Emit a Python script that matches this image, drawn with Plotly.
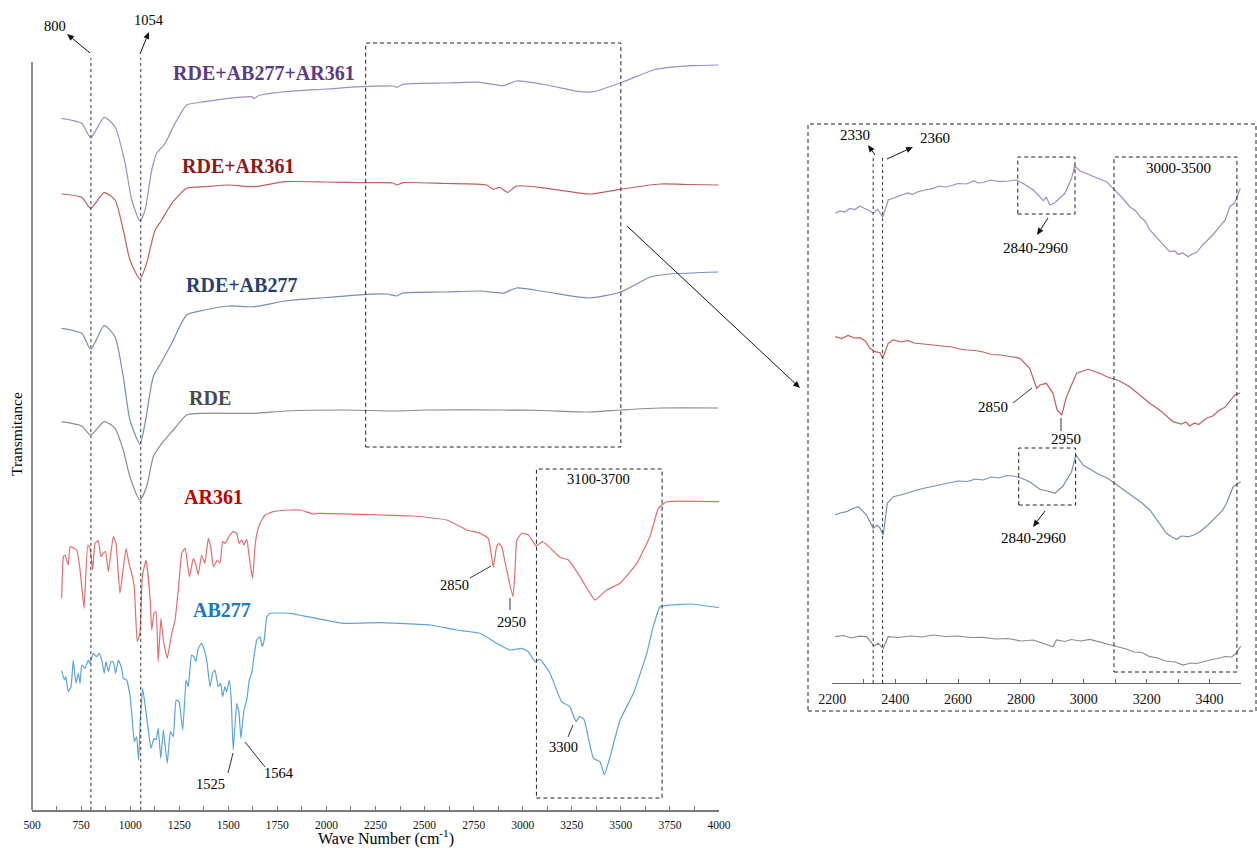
import math
import plotly.graph_objects as go

W, H = 1257, 848
FONT = "Liberation Serif"

# ---------------- main panel: stacked FTIR spectra (offset transmittance, a.u.) ----------------
wn_mix3 = [651, 753, 799, 868, 923, 974, 1008, 1050, 1076, 1110, 1135, 1178, 1229, 1288, 1381,
           1500, 1619, 1632, 1650, 1789, 2000, 2171, 2340, 2358, 2390, 2600, 2782, 2901, 2969,
           3122, 3292, 3360, 3504, 3665, 3708, 3869, 3997]
t_mix3 = [691.7, 686.7, 672.3, 692.7, 683.3, 647, 610, 589, 600, 640, 656.7, 666.7, 686.7, 705,
          708.3, 711.7, 713.3, 711.5, 714, 718.3, 721, 723.3, 724, 722.7, 725.7, 727, 727.7,
          724.3, 729, 725, 718.3, 718.3, 727.7, 740, 741.7, 744.3, 745]

wn_rde_ar = [651, 753, 799, 868, 923, 965, 999, 1050, 1084, 1127, 1161, 1212, 1288, 1381, 1500,
             1636, 1789, 2000, 2171, 2340, 2358, 2390, 2600, 2816, 2850, 2884, 2923, 2969, 3122,
             3344, 3496, 3700, 3850, 3997]
t_rde_ar = [616, 612.7, 601.7, 617.3, 610, 580, 550, 531, 546.7, 580, 590, 606.7, 621.7, 623.3,
            625, 623.3, 628.3, 628, 627.3, 627, 625, 627.3, 626.5, 625, 620.7, 622.7, 617.7, 624,
            621.7, 616, 620.7, 626, 625.5, 625]

wn_rde_ab = [651, 753, 799, 868, 923, 965, 999, 1050, 1076, 1118, 1161, 1212, 1288, 1381, 1500,
             1632, 1789, 2000, 2205, 2307, 2358, 2390, 2600, 2782, 2901, 2969, 3122, 3340, 3500,
             3650, 3750, 3997]
t_rde_ab = [481.7, 476.7, 460.7, 484.3, 473.3, 433.3, 390, 365.7, 386.7, 433.3, 448.3, 466.7, 495,
            500, 504, 503.3, 509, 512.5, 515.7, 516, 514, 517, 518, 519, 517, 522, 518, 512, 518,
            533, 536, 538]

wn_rde = [651, 753, 799, 868, 923, 965, 999, 1050, 1084, 1118, 1161, 1220, 1288, 1381, 1636,
          1789, 2100, 2358, 2500, 2900, 3100, 3340, 3500, 3700, 3997]
t_rde = [388.3, 384, 375, 388.3, 381.7, 360, 333.3, 310, 323.3, 353.3, 366.7, 380, 395, 396.7,
         396.7, 399, 400, 399, 400, 400, 399.5, 398, 400, 402, 402]

wn_ar361 = [651, 660, 668, 685, 694, 728, 745, 765, 784, 796, 809, 821, 838, 851, 863, 875, 889,
            914, 928, 948, 979, 994, 1008, 1021, 1036, 1050, 1062, 1081, 1101, 1110, 1122, 1132,
            1143, 1157, 1169, 1189, 1212, 1229, 1246, 1263, 1280, 1302, 1322, 1335, 1347, 1364,
            1381, 1398, 1410, 1424, 1444, 1458, 1471, 1483, 1509, 1526, 1543, 1555, 1568, 1580,
            1594, 1611, 1624, 1636, 1648, 1662, 1687, 1729, 1814, 1865, 1933, 1967, 2273, 2443,
            2613, 2715, 2783, 2825, 2839, 2850, 2867, 2879, 2893, 2915, 2950, 2960, 2970, 2995,
            3029, 3068, 3102, 3190, 3233, 3292, 3343, 3368, 3428, 3496, 3581, 3648, 3691, 3733,
            3999]
t_ar361 = [211.7, 253.3, 255, 245, 263.3, 260, 240, 201.7, 265, 261.7, 240, 266.7, 269.3, 253.3,
           256.7, 258.3, 238.3, 273.3, 266.7, 216.7, 261.7, 246.7, 236.7, 223.3, 168.3, 176.7,
           233.3, 250, 213.3, 180, 196.7, 198.3, 148.3, 191.7, 170, 151.7, 176.7, 190, 221.7,
           256.7, 261.7, 233.3, 251.7, 245, 235, 255, 246.7, 271.7, 263.3, 243.3, 250, 246.7,
           268.3, 266.7, 275, 278.3, 276.7, 266.7, 270, 265, 270.7, 246.7, 231.7, 263.3, 278.3,
           286.7, 295, 298.3, 300, 300, 296, 296.7, 295, 294, 290, 280, 276.7, 271.7, 256.7,
           242.7, 263.3, 266.7, 263.3, 243.3, 213.3, 236.7, 270, 276.7, 275, 264, 268.3, 252.7,
           250, 233.3, 216.7, 210, 220, 226.7, 246.7, 273.3, 301.7, 308.3, 308.3]

wn_ab277 = [651, 665, 672, 685, 699, 710, 724, 736, 745, 753, 770, 787, 795, 812, 829, 843, 855,
            868, 877, 889, 902, 914, 926, 940, 957, 965, 982, 999, 1011, 1021, 1033, 1043, 1052,
            1064, 1084, 1106, 1122, 1132, 1143, 1156, 1169, 1189, 1205, 1220, 1234, 1249, 1268,
            1285, 1296, 1313, 1325, 1335, 1347, 1364, 1373, 1390, 1407, 1420, 1432, 1449, 1461,
            1471, 1483, 1492, 1505, 1515, 1525, 1543, 1555, 1564, 1580, 1594, 1607, 1619, 1631,
            1645, 1662, 1673, 1683, 1696, 1712, 1814, 2086, 2273, 2528, 2664, 2783, 2867, 2935,
            2995, 3029, 3063, 3088, 3139, 3198, 3240, 3272, 3290, 3312, 3360, 3394, 3416, 3445,
            3496, 3564, 3632, 3665, 3699, 3750, 3860, 3999]
t_ab277 = [139.3, 130, 133.3, 118.3, 123.3, 150, 126.7, 136.7, 126.7, 145, 141.7, 150, 146.7,
           156.7, 153.3, 156.7, 150, 136.7, 148.3, 138.3, 148.3, 148.3, 136.7, 150, 141.7, 131.7,
           130, 115, 90, 68.3, 73.3, 50, 90, 121.7, 93.3, 61.7, 71.7, 70, 81.7, 51.7, 80, 46.7,
           78.3, 73.3, 110, 108.3, 80, 130, 123.3, 155, 153.3, 148.3, 161.7, 166.7, 163.3, 150,
           123.3, 136.7, 140, 123.3, 126.7, 113.3, 123.3, 118.3, 130, 110, 60, 106.7, 96.7, 71.7,
           100, 110, 130, 136.7, 153.3, 170, 173.3, 163.3, 170, 193.3, 196.7, 196.7, 186.7, 187.3,
           185, 180, 176.7, 166.7, 160, 161.7, 158.3, 148.3, 150.7, 136.7, 108.3, 103.3, 88.3,
           93.3, 90.7, 51.7, 48.3, 35, 53.3, 90, 116.7, 156.7, 183.3, 203.3, 205, 206, 202.3]

# ---------------- inset: 2200-3500 cm-1 region, enlarged ----------------
wn_i_mix3 = [2209, 2225, 2240, 2256, 2272, 2288, 2300, 2314, 2330, 2345, 2360, 2378, 2395, 2415,
             2440, 2455, 2470, 2495, 2521, 2540, 2560, 2580, 2600, 2627, 2650, 2665, 2680, 2705,
             2733, 2760, 2786, 2810, 2839, 2855, 2871, 2881, 2892, 2908, 2918, 2940, 2961, 2971,
             2987, 3010, 3030, 3050, 3072, 3099, 3120, 3146, 3165, 3180, 3195, 3210, 3230, 3250,
             3273, 3290, 3300, 3315, 3332, 3345, 3360, 3375, 3390, 3410, 3432, 3450, 3464, 3480,
             3498]
t_i_mix3 = [469.7, 472, 471, 474.7, 473.5, 477, 475, 473, 469.7, 473.7, 465.7, 483, 485, 487,
            490, 488.5, 491, 493, 494.7, 497, 496, 497.5, 499.5, 499, 502, 500, 500.5, 503, 501.3,
            502, 503, 499, 493, 488, 482.3, 485.7, 478, 480.3, 483, 489.7, 504.7, 517, 512.3,
            509, 506.3, 504, 501.3, 493, 486, 476.3, 472, 466, 462, 453, 446, 440, 431.3, 432,
            428.5, 430, 426.3, 429, 431, 437, 441.3, 448, 456.3, 463, 476.3, 480, 494.7]

wn_i_rde_ar = [2209, 2230, 2250, 2270, 2288, 2305, 2320, 2336, 2352, 2360, 2378, 2394, 2420, 2440,
               2460, 2490, 2521, 2550, 2580, 2605, 2627, 2655, 2680, 2705, 2733, 2765, 2797, 2828,
               2850, 2860, 2881, 2902, 2915, 2930, 2945, 2977, 3014, 3051, 3075, 3099, 3120, 3146,
               3175, 3210, 3241, 3265, 3284, 3310, 3325, 3337, 3352, 3365, 3390, 3410, 3432, 3450,
               3464, 3480, 3497]
t_i_rde_ar = [346.3, 344.5, 347.5, 345, 345.3, 342, 334.7, 331.3, 330.3, 324.7, 339.7, 343, 341,
              342.5, 340, 339, 338, 336.5, 336, 334, 333, 332.5, 331, 328.5, 328, 326.5, 324.7,
              314.7, 294.7, 298, 299.7, 289.7, 273, 268, 286.3, 309.7, 313.7, 309.7, 306, 303.7,
              301, 296.3, 289, 279.7, 273, 266, 261.3, 259, 261, 257, 260, 258.5, 264.7, 267, 273,
              276, 281.3, 288, 290]

wn_i_rde_ab = [2209, 2225, 2246, 2265, 2283, 2309, 2330, 2343, 2352, 2362, 2375, 2394, 2430, 2468,
               2495, 2520, 2545, 2574, 2600, 2630, 2655, 2680, 2705, 2730, 2755, 2775, 2800, 2828,
               2860, 2885, 2908, 2920, 2934, 2961, 2975, 2998, 3025, 3051, 3075, 3099, 3130, 3157,
               3185, 3210, 3240, 3263, 3280, 3295, 3310, 3332, 3350, 3369, 3395, 3422, 3440, 3454,
               3475, 3499]
t_i_rde_ab = [168, 170, 171.3, 174.5, 176.3, 168, 154.7, 158, 154.7, 148, 179.7, 186.3, 189, 193,
              195, 196.5, 198.5, 199.7, 202, 201.5, 204, 203, 206, 205, 207.5, 207, 205, 201.3,
              193.7, 192, 189.7, 193, 197, 211.3, 228, 218, 213, 208, 205, 199.7, 193, 186.3, 180,
              173, 160, 149.7, 146, 143.7, 147, 146.3, 148, 151.3, 158, 166.3, 172, 179.7, 196.3,
              201.3]

wn_i_rde = [2209, 2235, 2260, 2285, 2309, 2333, 2346, 2362, 2378, 2410, 2450, 2485, 2521, 2560,
            2600, 2640, 2680, 2720, 2760, 2800, 2839, 2870, 2902, 2913, 2940, 2960, 2990, 3019,
            3060, 3104, 3135, 3160, 3185, 3210, 3235, 3260, 3290, 3316, 3340, 3360, 3380, 3401,
            3425, 3450, 3470, 3485, 3499]
t_i_rde = [46.3, 47.5, 45, 46.8, 46.3, 37, 39.7, 34.7, 46.3, 45.5, 47, 46, 48, 46.5, 47, 45.5,
           45.7, 44, 44.5, 42, 43, 40, 36.3, 43, 41.5, 43.5, 42, 43.7, 40.5, 36.3, 34, 31, 30.5,
           26.3, 25, 22, 21, 18, 20, 19.5, 21.5, 23, 24.5, 26.5, 26, 29.7, 37]

# ---------------- styling ----------------
C_MIX3 = "#a08bca"
C_RDE_AR = "#c0605c"
C_RDE_AB = "#7a8db3"
C_RDE = "#8c8c8c"
C_AR = "#e36d6d"
C_AB = "#5aa4de"

fig = go.Figure()


def add(x, y, color, ax="main", smoothing=0.0):
    xa, ya = ("x", "y") if ax == "main" else ("x2", "y2")
    line = dict(color=color, width=1.2)
    if smoothing:
        line.update(shape="spline", smoothing=smoothing)
    fig.add_trace(go.Scatter(x=x, y=y, mode="lines", line=line, xaxis=xa, yaxis=ya,
                             hoverinfo="skip", showlegend=False))


add(wn_mix3, t_mix3, C_MIX3, smoothing=0.6)
add(wn_rde_ar, t_rde_ar, C_RDE_AR, smoothing=0.6)
add(wn_rde_ab, t_rde_ab, C_RDE_AB, smoothing=0.6)
add(wn_rde, t_rde, C_RDE, smoothing=0.6)
add(wn_ar361, t_ar361, C_AR, smoothing=0.35)
add(wn_ab277, t_ab277, C_AB, smoothing=0.35)

add(wn_i_mix3, t_i_mix3, C_MIX3, ax="inset")
add(wn_i_rde_ar, t_i_rde_ar, C_RDE_AR, ax="inset")
add(wn_i_rde_ab, t_i_rde_ab, C_RDE_AB, ax="inset")
add(wn_i_rde, t_i_rde, C_RDE, ax="inset")


def P(x, y):
    """pixel position -> paper fraction"""
    return x / W, 1 - y / H


shapes = []
annotations = []

DASH = "4px,3px"

# main y axis line
shapes.append(dict(type="line", xref="paper", yref="y", x0=32 / W, x1=32 / W, y0=0, y1=748,
                   line=dict(color="#8a8a8a", width=2)))

# band markers in main panel
for v in (800, 1054):
    shapes.append(dict(type="line", xref="x", yref="y", x0=v, x1=v, y0=0, y1=752,
                       line=dict(color="#333333", width=1, dash="dot")))

# highlighted regions in main panel
shapes.append(dict(type="rect", xref="x", yref="y", x0=2200, x1=3500, y0=363, y1=767,
                   line=dict(color="#222222", width=1, dash=DASH)))
shapes.append(dict(type="rect", xref="x", yref="y", x0=3070, x1=3710, y0=12, y1=341,
                   line=dict(color="#222222", width=1, dash=DASH)))

# inset frame
fx0, fy0 = P(808, 124)
fx1, fy1 = P(1256, 711)
shapes.append(dict(type="rect", xref="paper", yref="paper", x0=fx0, x1=fx1, y0=fy1, y1=fy0,
                   line=dict(color="#222222", width=1, dash=DASH)))

# inset band markers
for v in (2330, 2360):
    shapes.append(dict(type="line", xref="x2", yref="y2", x0=v, x1=v, y0=0, y1=525,
                       line=dict(color="#333333", width=1, dash="dot")))

# inset boxes
shapes.append(dict(type="rect", xref="x2", yref="y2", x0=2790, x1=2972, y0=469, y1=526,
                   line=dict(color="#222222", width=1, dash=DASH)))
shapes.append(dict(type="rect", xref="x2", yref="y2", x0=2793, x1=2974, y0=178, y1=235,
                   line=dict(color="#222222", width=1, dash=DASH)))
shapes.append(dict(type="rect", xref="x2", yref="y2", x0=3096, x1=3487, y0=11, y1=526,
                   line=dict(color="#222222", width=1, dash=DASH)))


def seg(a, b, color="#333333", width=1):
    xa_, ya_ = P(*a)
    xb_, yb_ = P(*b)
    shapes.append(dict(type="line", xref="paper", yref="paper", x0=xa_, y0=ya_, x1=xb_, y1=yb_,
                       line=dict(color=color, width=width)))


# leader lines for peak labels
for a, b in [((228, 773), (233, 753)), ((265, 767), (245, 742)), ((470, 578), (491, 566)),
             ((510, 598), (510, 610)), ((568, 737), (573, 725)), ((1013, 403), (1032, 388)),
             ((1061, 418), (1061, 431))]:
    seg(a, b)


def arrow(tail, head, L=7.0, w=3.0):
    tx, ty = tail
    hx, hy = head
    d = math.hypot(hx - tx, hy - ty)
    ux, uy = (hx - tx) / d, (hy - ty) / d
    bx, by = hx - ux * L, hy - uy * L
    nx, ny = -uy, ux
    seg(tail, (bx, by), "#111111", 1)
    pts = [(hx, hy), (bx + nx * w, by + ny * w), (bx - nx * w, by - ny * w)]
    path = "M " + " L ".join(f"{x / W:.6f},{1 - y / H:.6f}" for x, y in pts) + " Z"
    shapes.append(dict(type="path", xref="paper", yref="paper", path=path,
                       fillcolor="#111111", line=dict(width=0)))


arrow((90, 53), (67, 34))
arrow((140, 54), (149, 32))
arrow((875, 155), (868, 145))
arrow((887, 159), (913, 147))
arrow((1048, 218), (1037, 235))
arrow((1045, 511), (1033, 527))
arrow((627, 226), (800, 388))


def text(x, y, s, size=14.5, color="black", bold=False, angle=0):
    px_, py_ = P(x, y)
    annotations.append(dict(x=px_, y=py_, xref="paper", yref="paper",
                            text=f"<b>{s}</b>" if bold else s, textangle=angle,
                            showarrow=False, xanchor="center", yanchor="middle",
                            font=dict(family=FONT, size=size, color=color)))


# spectrum names
text(264, 73, "RDE+AB277+AR361", 20, "#5b3a86", True)
text(238, 166, "RDE+AR361", 20, "#8b1a1a", True)
text(241, 285, "RDE+AB277", 20, "#253f6e", True)
text(210, 398, "RDE", 20, "#4a4a4a", True)
text(213, 497, "AR361", 20, "#c00000", True)
text(222, 610, "AB277", 20, "#1a78c8", True)

# peak labels
text(55, 26, "800")
text(149, 20, "1054")
text(211, 784, "1525")
text(279, 773, "1564")
text(454, 585, "2850")
text(511, 622, "2950")
text(563, 747, "3300")
text(598, 479, "3100-3700")
text(855, 135, "2330", 15)
text(935, 138, "2360", 15)
text(1035, 248, "2840-2960", 15)
text(1178, 168, "3000-3500", 15)
text(993, 407, "2850", 15)
text(1066, 439, "2950", 15)
text(1033, 538, "2840-2960", 15)

# axis titles
text(386, 837, "Wave Number (cm<sup>-1</sup>)", 16)
text(16, 434, "Transmitance", 15.5, angle=-90)

fig.update_layout(
    width=W, height=H,
    margin=dict(l=0, r=0, t=0, b=0, autoexpand=False),
    paper_bgcolor="white", plot_bgcolor="white",
    showlegend=False,
    shapes=shapes,
    annotations=annotations,
    xaxis=dict(domain=[32 / W, 719 / W], range=[500, 4000], anchor="y", automargin=False,
               showline=True, linecolor="#7a7a7a", linewidth=1.5, showgrid=False, zeroline=False,
               ticks="inside", ticklen=4, tickcolor="#7a7a7a", dtick=250, tick0=0,
               minor=dict(dtick=125, ticks="inside", ticklen=4, tickcolor="#7a7a7a"),
               tickfont=dict(family=FONT, size=11.5, color="#111111"), ticklabelstandoff=3),
    yaxis=dict(domain=[1 - 810 / H, 1], range=[0, 810], anchor="x", visible=False,
               automargin=False),
    xaxis2=dict(domain=[832.3 / W, 1241 / W], range=[2200, 3500], anchor="y2", automargin=False,
                showline=True, linecolor="#666666", linewidth=1, showgrid=False, zeroline=False,
                ticks="inside", ticklen=4, tickcolor="#666666", dtick=200, tick0=0,
                minor=dict(dtick=100, ticks="inside", ticklen=4, tickcolor="#666666"),
                tickfont=dict(family=FONT, size=14, color="#111111"), ticklabelstandoff=3),
    yaxis2=dict(domain=[1 - 683 / H, 1], range=[0, 683], anchor="x2", visible=False,
                automargin=False),
)

fig.write_html("out.html")
